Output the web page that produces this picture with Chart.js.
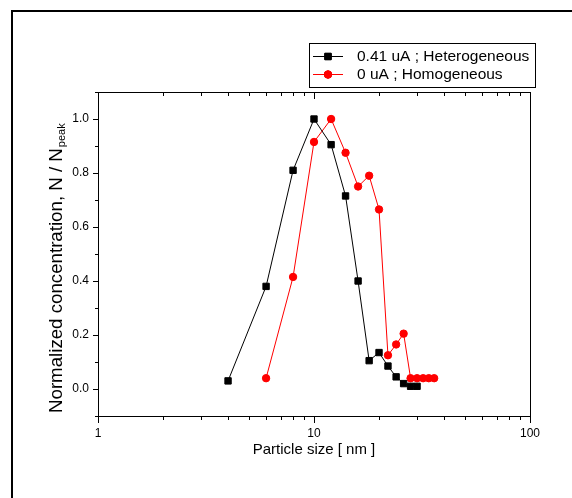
<!DOCTYPE html>
<html><head><meta charset="utf-8">
<script src="https://cdn.jsdelivr.net/npm/chart.js@4/dist/chart.umd.min.js"></script>
<style>html,body{margin:0;padding:0;background:#fff}canvas{display:block}</style>
</head><body>
<canvas id="c" width="572" height="498" style="width:572px;height:498px"></canvas>
<script>
const heteroSize = [4, 6, 8, 10, 12, 14, 16, 18, 20, 22, 24, 26, 28, 30];
const heteroConc = [0.03, 0.38, 0.81, 1.0, 0.905, 0.715, 0.40, 0.105, 0.135, 0.085, 0.045, 0.02, 0.01, 0.01];
const homoSize = [6, 8, 10, 12, 14, 16, 18, 20, 22, 24, 26, 28, 30, 32, 34, 36];
const homoConc = [0.04, 0.415, 0.915, 1.0, 0.875, 0.75, 0.79, 0.665, 0.125, 0.165, 0.205, 0.04, 0.04, 0.04, 0.04, 0.04];
const seriesLabels = ['0.41 uA ; Heterogeneous', '0 uA ; Homogeneous'];
const xMajorTicks = [1, 10, 100];
const xMinorTicks = [2, 3, 4, 5, 6, 7, 8, 9, 20, 30, 40, 50, 60, 70, 80, 90];
const yMajorTicks = [0, 0.2, 0.4, 0.6, 0.8, 1.0];
const yMinorTicks = [-0.1, 0.1, 0.3, 0.5, 0.7, 0.9, 1.1];
const xTitle = 'Particle size [ nm ]';
const yTitleMain = 'Normalized concentration, N / N';
const yTitleSub = 'peak';

const FONT = '"Liberation Sans", Arial, sans-serif';

const framePlugin = {
  id: 'frame',
  beforeDraw(chart) {
    const ctx = chart.ctx;
    ctx.save();
    ctx.fillStyle = '#fff';
    ctx.fillRect(0, 0, chart.width, chart.height);
    ctx.strokeStyle = '#000';
    ctx.lineWidth = 2;
    ctx.beginPath();
    ctx.moveTo(12, chart.height);
    ctx.lineTo(12, 11);
    ctx.lineTo(chart.width, 11);
    ctx.stroke();
    ctx.restore();
  },
  afterDraw(chart) {
    const ctx = chart.ctx;
    const a = chart.chartArea;
    const xs = chart.scales.x, ys = chart.scales.y;
    ctx.save();
    ctx.strokeStyle = '#000';
    ctx.lineWidth = 1;
    ctx.beginPath();
    ctx.moveTo(a.left - 2, a.top + 0.5);
    ctx.lineTo(a.right + 0.5, a.top + 0.5);
    ctx.lineTo(a.right + 0.5, a.bottom + 3);
    ctx.stroke();
    ctx.beginPath();
    xMinorTicks.forEach(v => {
      const px = Math.round(xs.getPixelForValue(v)) + 0.5;
      ctx.moveTo(px, a.bottom); ctx.lineTo(px, a.bottom + 4);
      ctx.moveTo(px, a.top); ctx.lineTo(px, a.top + 4);
    });
    xMajorTicks.forEach(v => {
      const px = Math.round(xs.getPixelForValue(v)) + 0.5;
      ctx.moveTo(px, a.top); ctx.lineTo(px, a.top + 7);
    });
    yMinorTicks.forEach(v => {
      const py = Math.round(ys.getPixelForValue(v)) + 0.5;
      ctx.moveTo(a.left, py); ctx.lineTo(a.left - 3, py);
    });
    ctx.stroke();

    // y title with subscript
    ctx.fillStyle = '#000';
    ctx.translate(62, 413);
    ctx.rotate(-Math.PI / 2);
    ctx.textBaseline = 'alphabetic';
    ctx.textAlign = 'left';
    ctx.font = '18.7px ' + FONT;
    const wMain = ctx.measureText(yTitleMain).width;
    ctx.fillText(yTitleMain, 0, 0);
    ctx.font = '11px ' + FONT;
    ctx.fillText(yTitleSub, wMain + 1, 3);
    ctx.restore();

    // legend
    ctx.save();
    const lx = 309.5, ly = 43.5, lw = 226, lh = 44;
    ctx.strokeStyle = '#000';
    ctx.lineWidth = 1;
    ctx.strokeRect(lx, ly, lw, lh);
    const rows = [56, 74];
    chart.data.datasets.forEach((ds, i) => {
      const y = rows[i];
      ctx.strokeStyle = ds.borderColor;
      ctx.lineWidth = 1;
      ctx.beginPath();
      ctx.moveTo(313, y + 0.5); ctx.lineTo(343, y + 0.5);
      ctx.stroke();
      Chart.helpers.drawPoint(ctx, {
        pointStyle: ds.pointStyle, radius: ds.pointRadius, borderWidth: 1, rotation: 0
      }, 328, y + 0.5);
      ctx.fillStyle = ds.backgroundColor;
      ctx.strokeStyle = ds.borderColor;
      ctx.fill(); ctx.stroke();
      ctx.fillStyle = '#000';
      ctx.font = '15.5px ' + FONT;
      ctx.textBaseline = 'middle';
      ctx.textAlign = 'left';
      ctx.fillText(ds.label, 357, y + 1);
    });
    ctx.restore();
  }
};

new Chart(document.getElementById('c'), {
  type: 'line',
  data: {
    datasets: [
      {
        label: seriesLabels[0],
        data: heteroSize.map((s, i) => ({ x: s, y: heteroConc[i] })),
        borderColor: '#000', backgroundColor: '#000',
        borderWidth: 1, pointStyle: 'rect', pointRadius: 4.5, pointBorderWidth: 1,
        tension: 0
      },
      {
        label: seriesLabels[1],
        data: homoSize.map((s, i) => ({ x: s, y: homoConc[i] })),
        borderColor: '#ff0000', backgroundColor: '#ff0000',
        borderWidth: 1, pointStyle: 'circle', pointRadius: 3.7, pointBorderWidth: 1,
        tension: 0
      }
    ]
  },
  options: {
    responsive: false,
    animation: false,
    devicePixelRatio: 1,
    layout: { padding: { left: 0, right: 42, top: 92, bottom: 0 } },
    plugins: { legend: { display: false }, tooltip: { enabled: false } },
    scales: {
      x: {
        type: 'logarithmic', min: 1, max: 100,
        afterBuildTicks: s => { s.ticks = xMajorTicks.map(v => ({ value: v })); },
        afterFit: s => { s.height = 82; },
        ticks: { color: '#000', font: { family: FONT, size: 12 }, padding: 3, maxRotation: 0, autoSkip: false,
          callback: v => String(v) },
        grid: { drawOnChartArea: false, drawTicks: true, tickLength: 7, color: '#000', lineWidth: 1 },
        border: { display: true, color: '#000', width: 1 },
        title: { display: true, text: xTitle, color: '#000', font: { family: FONT, size: 15 }, padding: { top: 0, bottom: 39 } }
      },
      y: {
        type: 'linear', min: -0.1, max: 1.1,
        afterBuildTicks: s => { s.ticks = yMajorTicks.map(v => ({ value: v })); },
        afterFit: s => { s.width = 98; },
        ticks: { color: '#000', font: { family: FONT, size: 12 }, padding: 4,
          callback: v => Number(v).toFixed(1) },
        grid: { drawOnChartArea: false, drawTicks: true, tickLength: 5, color: '#000', lineWidth: 1 },
        border: { display: true, color: '#000', width: 1 }
      }
    }
  },
  plugins: [framePlugin]
});
</script>
</body></html>
